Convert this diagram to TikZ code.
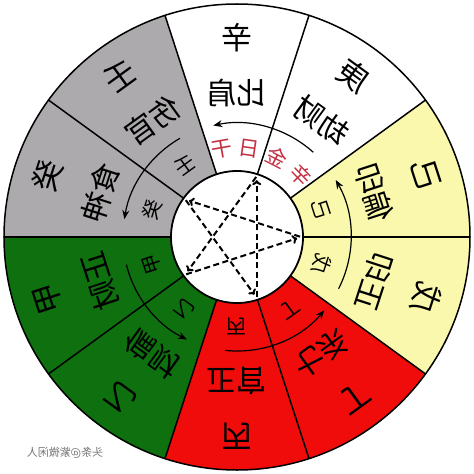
\documentclass[tikz,border=0pt]{standalone}
\usepackage{fontspec}
\newfontfamily\cjk{Noto Sans CJK SC}
\usetikzlibrary{arrows.meta}
\definecolor{cgray}{RGB}{172,170,172}
\definecolor{cgreen}{RGB}{14,112,14}
\definecolor{cred}{RGB}{240,12,10}
\definecolor{cyellow}{RGB}{250,248,172}
\definecolor{clabel}{RGB}{196,48,66}
\tikzset{
  outerlbl/.style={transform shape, inner sep=0pt, font=\cjk\fontsize{31}{31}\selectfont},
  termlbl/.style={transform shape, inner sep=0pt, font=\cjk\fontsize{30}{30}\selectfont},
  smalllbl/.style={transform shape, inner sep=0pt, font=\cjk\fontsize{20}{20}\selectfont},
  daylbl/.style={transform shape, inner sep=0pt, text=clabel, font=\cjk\fontsize{21}{21}\selectfont},
  wmlbl/.style={transform shape, inner sep=0pt, text=black!55, font=\cjk\fontsize{11}{11}\selectfont},
  border/.style={line width=1.5pt, black},
  cyclearrow/.style={line width=1.2pt, -{Stealth[length=9pt,width=7pt]}},
  starline/.style={line width=2pt, dash pattern=on 6pt off 3.5pt, -{To[length=5pt,width=9pt,line width=2pt]}, shorten >=4pt, shorten <=1pt}
}
\begin{document}
\begin{tikzpicture}
\useasboundingbox (-237pt,-237pt) rectangle (237pt,237pt);
\fill[white] (-237pt,-237pt) rectangle (237pt,237pt);
\begin{scope}[xscale=-1]
  % sectors
  \foreach \a/\col in {72/white,108/white,144/cyellow,180/cyellow,216/cred,252/cred,288/cgreen,324/cgreen,0/cgray,36/cgray}{
    \pgfmathsetmacro\b{\a+36}
    \fill[\col] (\a:66pt) arc[start angle=\a, end angle=\b, radius=66pt] -- (\b:233pt) arc[start angle=\b, end angle=\a, radius=233pt] -- cycle;
  }
  % borders
  \foreach \a in {0,36,...,324}{
    \draw[border] (\a:66pt) -- (\a:233pt);
  }
  \draw[border] (0,0) circle[radius=233pt];
  \fill[white] (0,0) circle[radius=66pt];
  \draw[line width=1.8pt] (0,0) circle[radius=66pt];
  % labels
  \foreach \c/\s/\t [count=\i] in {90/辛/比肩, 54/壬/伤官, 18/癸/食神, -18/甲/正财, -54/乙/偏财, -90/丙/正官, -126/丁/七杀, -162/戊/正印, 162/己/偏印, 126/庚/劫财}{
    \node[outerlbl, rotate=\c-90] (stem\i) at (\c:199pt) {\s};
    \node[termlbl, rotate=\c-90] (term\i) at (\c:144pt) {\t};
  }
  \foreach \c/\s [count=\i] in {54/壬, 18/癸, -18/甲, -54/乙, -90/丙, -126/丁, -162/戊, 162/己}{
    \node[smalllbl, rotate=\c-90] (small\i) at (\c:89pt) {\s};
  }
  \foreach \c/\s [count=\i] in {136/辛, 117/金, 98/日, 80/干}{
    \node[daylbl, rotate=\c-90] (day\i) at (\c:89pt) {\s};
  }
  % cycle arrows
  \draw[cyclearrow] (132:114pt) arc[start angle=132, end angle=78, radius=114pt];
  \draw[cyclearrow] (60:114pt) arc[start angle=60, end angle=9, radius=114pt];
  \draw[cyclearrow] (-14:114pt) arc[start angle=-14, end angle=-64, radius=114pt];
  \draw[cyclearrow] (-84:114pt) arc[start angle=-84, end angle=-140, radius=114pt];
  \draw[cyclearrow] (-153:114pt) arc[start angle=-153, end angle=-210, radius=114pt];
  % pentagram
  \coordinate (pa) at (108:64pt);
  \coordinate (pb) at (36:64pt);
  \coordinate (pc) at (-36:64pt);
  \coordinate (pd) at (-108:64pt);
  \coordinate (pe) at (180:64pt);
  \draw[starline] (pa) -- (pc);
  \draw[starline] (pc) -- (pe);
  \draw[starline] (pe) -- (pb);
  \draw[starline] (pb) -- (pd);
  \draw[starline] (pd) -- (pa);
  % watermark
  \node[wmlbl] (wm) at (172pt,-216pt) {头条@紫微闲人};
\end{scope}
\end{tikzpicture}
\end{document}
